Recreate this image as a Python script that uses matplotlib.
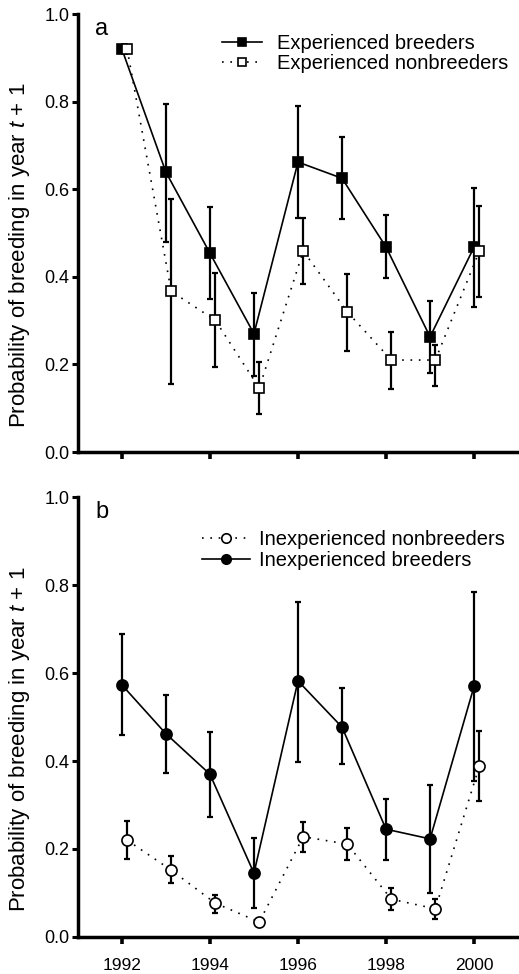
import matplotlib
matplotlib.use("Agg")
import matplotlib.pyplot as plt
import numpy as np

plt.rcParams['font.family'] = ['Liberation Sans', 'DejaVu Sans']
plt.rcParams['mathtext.fontset'] = 'custom'
plt.rcParams['mathtext.it'] = 'Liberation Sans:italic'
plt.rcParams['mathtext.rm'] = 'Liberation Sans'

years = [1992, 1993, 1994, 1995, 1996, 1997, 1998, 1999, 2000]

# Panel a
exp_breed = [0.92, 0.639, 0.454, 0.27, 0.662, 0.625, 0.468, 0.263, 0.468]
exp_breed_hi = [0.92, 0.794, 0.559, 0.363, 0.79, 0.719, 0.541, 0.345, 0.603]
exp_breed_lo = [0.92, 0.48, 0.35, 0.174, 0.534, 0.532, 0.397, 0.18, 0.331]

exp_non = [0.92, 0.367, 0.301, 0.146, 0.459, 0.32, 0.21, 0.21, 0.459]
exp_non_hi = [0.92, 0.578, 0.409, 0.205, 0.534, 0.406, 0.274, 0.245, 0.562]
exp_non_lo = [0.92, 0.155, 0.194, 0.087, 0.384, 0.23, 0.144, 0.151, 0.354]

# Panel b
inexp_breed = [0.573, 0.462, 0.37, 0.145, 0.582, 0.477, 0.245, 0.223, 0.570]
inexp_breed_hi = [0.689, 0.55, 0.466, 0.225, 0.761, 0.566, 0.314, 0.345, 0.784]
inexp_breed_lo = [0.46, 0.373, 0.273, 0.066, 0.398, 0.393, 0.175, 0.10, 0.355]

inexp_non = [0.22, 0.152, 0.077, 0.034, 0.228, 0.211, 0.086, 0.064, 0.389]
inexp_non_hi = [0.264, 0.184, 0.095, 0.036, 0.262, 0.248, 0.111, 0.086, 0.468]
inexp_non_lo = [0.177, 0.123, 0.055, 0.032, 0.193, 0.175, 0.061, 0.041, 0.309]

xticks = [1992, 1994, 1996, 1998, 2000]
yticks = [0.0, 0.2, 0.4, 0.6, 0.8, 1.0]
ylabel = 'Probability of breeding in year $t$ + 1'

fig = plt.figure(figsize=(5.19, 9.74), dpi=100)
ax_a = fig.add_axes([0.150, 0.5359, 0.85, 0.4497])
ax_b = fig.add_axes([0.150, 0.0380, 0.85, 0.4517])

offset = 0.12
dots = (0, (1, 4))


def err(v, hi, lo):
    v = np.array(v); hi = np.array(hi); lo = np.array(lo)
    return np.vstack([v - lo, hi - v])


def plot_series(ax, x, v, hi, lo, marker, fill, ls, label, z):
    ax.errorbar(x, v, yerr=err(v, hi, lo), fmt='none', ecolor='black',
                elinewidth=1.6, capsize=2, capthick=1.6, zorder=z)
    ax.plot(x, v, linestyle=ls, color='black', linewidth=1.2,
            marker=marker, markersize=7.5 if marker == 's' else 8,
            markerfacecolor=fill, markeredgecolor='black', markeredgewidth=1.2,
            label=label, zorder=z + 1)


xb = np.array(years, dtype=float)
xn = xb + offset

plot_series(ax_a, xb, exp_breed, exp_breed_hi, exp_breed_lo, 's', 'black', '-',
            'Experienced breeders', 2)
plot_series(ax_a, xn, exp_non, exp_non_hi, exp_non_lo, 's', 'white', dots,
            'Experienced nonbreeders', 4)

plot_series(ax_b, xb, inexp_breed, inexp_breed_hi, inexp_breed_lo, 'o', 'black', '-',
            'Inexperienced breeders', 2)
plot_series(ax_b, xn, inexp_non, inexp_non_hi, inexp_non_lo, 'o', 'white', dots,
            'Inexperienced nonbreeders', 4)

for ax, lab in [(ax_a, 'a'), (ax_b, 'b')]:
    ax.set_xlim(1991.0, 2001.02)
    ax.set_ylim(0, 1.0)
    ax.spines['top'].set_visible(False)
    ax.spines['right'].set_visible(False)
    ax.spines['left'].set_linewidth(2.5)
    ax.spines['bottom'].set_linewidth(2.5)
    ax.set_yticks(yticks)
    ax.set_yticklabels(['%.1f' % t for t in yticks])
    ax.set_xticks(xticks)
    ax.tick_params(axis='y', direction='out', length=4, width=2.2,
                   labelsize=13, pad=2)
    ax.tick_params(axis='x', direction='out', length=5, width=2.6,
                   labelsize=12.5, pad=10)
    ax.set_ylabel(ylabel, fontsize=16, labelpad=7)
    ax.yaxis.set_label_coords(-0.105, 0.45)
    ax.text(0.04, 0.99, lab, transform=ax.transAxes, fontsize=17,
            va='top', ha='left')

ax_a.set_xticklabels([])

h, l = ax_a.get_legend_handles_labels()
ax_a.legend(h, l, loc='upper left', bbox_to_anchor=(0.327, 0.955), frameon=False,
            fontsize=14.5, handlelength=2.0, handletextpad=0.75, labelspacing=0.05,
            borderaxespad=0, borderpad=0, markerscale=0.75)

h, l = ax_b.get_legend_handles_labels()
order = [1, 0]
ax_b.legend([h[i] for i in order], [l[i] for i in order], loc='upper left',
            bbox_to_anchor=(0.281, 0.925), frameon=False, fontsize=14.5,
            handlelength=2.4, handletextpad=0.45, labelspacing=0.1,
            borderaxespad=0, borderpad=0, markerscale=0.85)

fig.savefig('out.png', dpi=100)
